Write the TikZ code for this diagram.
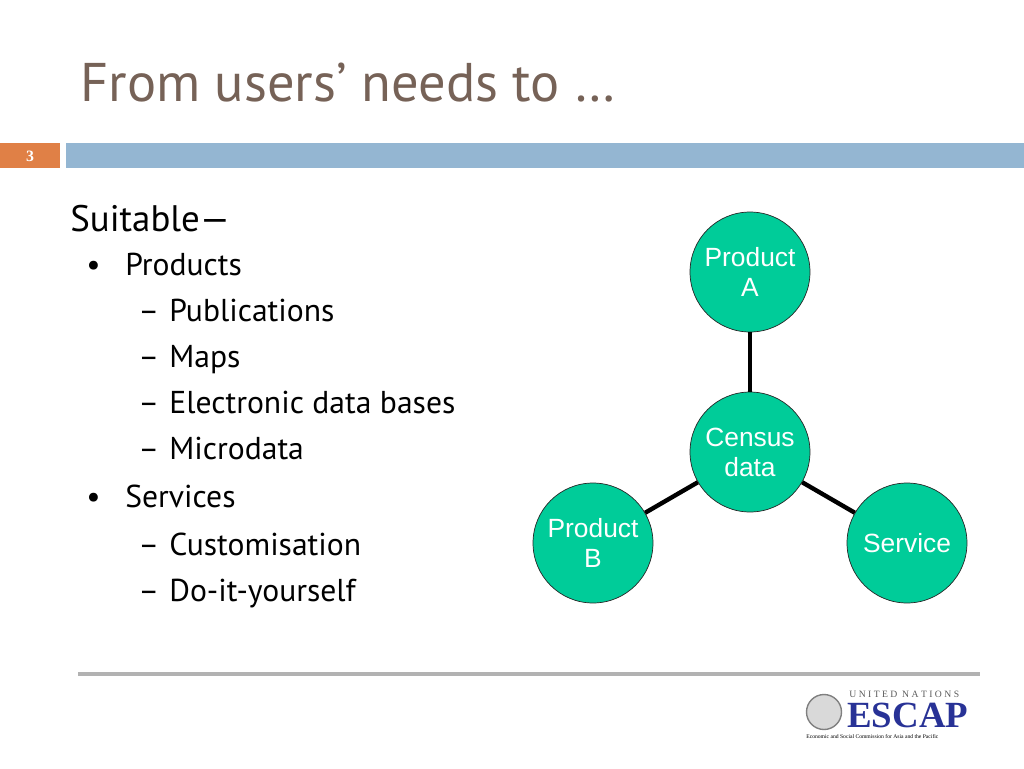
\documentclass[tikz,border=0pt]{standalone}
\usepackage{fontspec}
\setmainfont{PT Sans}
\newfontfamily\circfont{Liberation Sans}
\newfontfamily\logofont{Liberation Serif}
\usetikzlibrary{positioning}
\definecolor{titlebrown}{RGB}{118,98,87}
\definecolor{barblue}{RGB}{148,182,210}
\definecolor{barorange}{RGB}{224,128,70}
\definecolor{nodegreen}{RGB}{0,204,153}
\definecolor{escapblue}{RGB}{40,50,150}

\begin{document}
\begin{tikzpicture}[
        x=0.02cm, y=-0.02cm,
        every node/.style={inner sep=0pt},
        topic/.style={circle, draw=black!85, fill=nodegreen, thin,
            minimum size=2.4cm, align=center, text=white, font=\circfont\fontsize{15}{17}\selectfont},
        link/.style={line width=2.5pt, black},
        item/.style={anchor=base west, font=\fontsize{18}{20}\selectfont}
    ]
        \useasboundingbox (0,0) rectangle (1024,768);

        % Title and bars
        \node (title) [anchor=base west, text=titlebrown, font=\fontsize{31}{34}\selectfont] at (80,101) {From users’ needs to …};
        \fill[barorange] (0,143) rectangle (60,168);
        \node (num) [text=white, font=\logofont\bfseries\fontsize{9}{10}\selectfont] at (30,156) {3};
        \fill[barblue] (66,143) rectangle (1024,168);

        % Bullet list
        \node (head) [anchor=base west, font=\fontsize{21}{24}\selectfont] at (70,231) {Suitable—};
        \node (b1) [item] at (86,275) {•};
        \node (prod) [item] at (125,275) {Products};
        \foreach \y/\t in {321/Publications, 367/Maps, 413/Electronic data bases, 459/Microdata} {
            \node [item] at (138,\y) {–};
            \node [item] at (169,\y) {\t};
        }
        \node (b2) [item] at (86,507) {•};
        \node (serv) [item] at (125,507) {Services};
        \foreach \y/\t in {555/Customisation, 601/Do-it-yourself} {
            \node [item] at (138,\y) {–};
            \node [item] at (169,\y) {\t};
        }

        % Circles
        \node (census) [topic] at (750,452) {Census\\data};
        \node (proda) [topic] at (750,272) {Product\\A};
        \node (prodb) [topic] at (593,543) {Product\\B};
        \node (service) [topic] at (907,543) {Service};
        \draw[link] (census) -- (proda);
        \draw[link] (census) -- (prodb);
        \draw[link] (census) -- (service);

        % Footer
        \draw[black!30, line width=2pt] (78,674) -- (980,674);
        \node (emblem) [circle, draw=gray, fill=gray!30, thick, minimum size=0.7cm] at (824,712) {};
        \node (un) [anchor=base west, text=gray!70!black, font=\logofont\fontsize{5.5}{6}\selectfont] at (849,697) {U N I T E D\ \ N A T I O N S};
        \node (escap) [anchor=base west, text=escapblue, font=\logofont\bfseries\fontsize{21}{21}\selectfont] at (847,727) {ESCAP};
        \node (esc) [anchor=base west, font=\logofont\fontsize{3.2}{4}\selectfont] at (806,738) {Economic and Social Commission for Asia and the Pacific};
    \end{tikzpicture}
\end{document}
